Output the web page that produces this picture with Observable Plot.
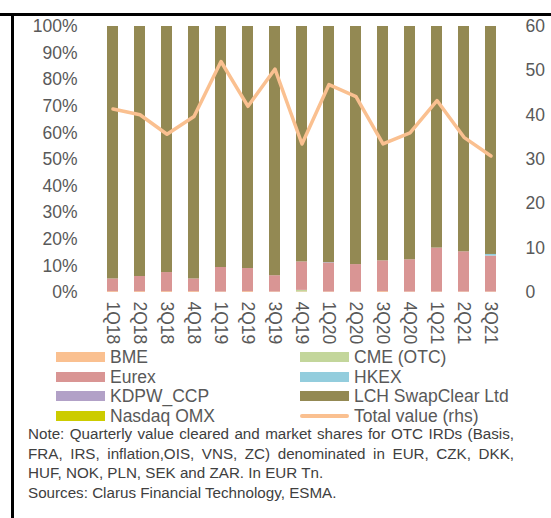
<!DOCTYPE html>
<html><head><meta charset="utf-8">
<script src="https://cdn.jsdelivr.net/npm/d3@7"></script>
<script src="https://cdn.jsdelivr.net/npm/@observablehq/plot@0.6"></script>
<style>
body{margin:0;background:#fff;font-family:"Liberation Sans",Arial,sans-serif;}
#wrap{position:relative;width:551px;height:518px;overflow:hidden;}
#chart{position:absolute;left:0;top:0;}
.bt{position:absolute;left:0;top:13px;width:551px;height:3px;background:#000;}
.bl{position:absolute;left:11px;top:13px;width:3px;height:505px;background:#000;}
.leg{position:absolute;font-size:17.5px;color:#595959;line-height:14px;white-space:nowrap;}
.sw{position:absolute;width:49px;height:10px;}
#note{position:absolute;left:28px;top:424px;width:486px;font-size:15.2px;line-height:19.5px;color:#404040;text-align:justify;}
</style></head>
<body><div id="wrap"><div id="chart"></div><div class="bt"></div><div class="bl"></div><div id="legend"></div>
<div id="note">Note: Quarterly value cleared and market shares for OTC IRDs (Basis, FRA, IRS, inflation,OIS, VNS, ZC) denominated in EUR, CZK, DKK, HUF, NOK, PLN, SEK and ZAR. In EUR Tn.<br>Sources: Clarus Financial Technology, ESMA.</div></div>
<script>
const quarters = ["1Q18","2Q18","3Q18","4Q18","1Q19","2Q19","3Q19","4Q19","1Q20","2Q20","3Q20","4Q20","1Q21","2Q21","3Q21"];
const seriesNames = ["BME","CME (OTC)","Eurex","HKEX","KDPW_CCP","LCH SwapClear Ltd","Nasdaq OMX"];
const seriesColors = ["#FAC090","#C3D69B","#D99594","#93CDDD","#B2A1C7","#938953","#CCCC00"];
const bme    = [0.3,0.3,0.3,0.3,0.2,0.3,0.2,0.2,0.2,0.2,0.3,0.2,0.2,0.2,0.2];
const cme    = [0,0,0,0,0,0,0,0.6,0,0,0,0,0,0,0];
const eurex  = [4.8,5.7,7.2,4.8,9.2,8.7,6.1,10.7,10.8,10.3,11.6,12.1,16.5,15.1,13.5];
const hkex   = [0,0,0,0,0,0,0,0,0,0,0,0,0,0,0.6];
const kdpw   = [0,0,0,0,0,0,0,0,0.2,0,0,0,0,0,0];
const lch    = [94.9,94.0,92.5,94.9,90.6,91.0,93.7,88.5,88.8,89.5,88.1,87.7,83.3,84.7,85.7];
const nasdaq = [0,0,0,0,0,0,0,0,0,0,0,0,0,0,0];
const totalValue = [41.4,40.1,35.7,39.7,52.1,42.0,50.4,33.5,46.9,44.2,33.5,36.0,43.3,35.0,30.8];
const leftTicks = [0,10,20,30,40,50,60,70,80,90,100];
const rhsTicks = [0,10,20,30,40,50,60];
const rhsMax = 60;
const lineName = "Total value (rhs)";
const lineColor = "#FAC090";

const seriesValues = [bme,cme,eurex,hkex,kdpw,lch,nasdaq];
const rows = [];
seriesNames.forEach((s,i)=>quarters.forEach((q,j)=>rows.push({q, series:s, v:seriesValues[i][j]})));
const lineRows = quarters.map((q,j)=>({q, total: totalValue[j]}));

const chart = Plot.plot({
  width:551, height:345, marginTop:26, marginBottom:53, marginLeft:94, marginRight:42,
  style:{fontFamily:"'Liberation Sans', Arial, sans-serif", fontSize:"17.5px", color:"#595959", background:"transparent", overflow:"visible"},
  x:{domain:quarters, paddingInner:0.6, paddingOuter:0.3, axis:null, label:null},
  y:{domain:[0,100], axis:null, label:null},
  color:{domain:seriesNames, range:seriesColors, legend:false},
  marks:[
    Plot.barY(rows, Plot.stackY({x:"q", y:"v", fill:"series", order:seriesNames})),
    Plot.line(lineRows, {x:"q", y:d=>d.total*100/rhsMax, stroke:lineColor, strokeWidth:3.5, strokeLinejoin:"round", strokeLinecap:"round"}),
    Plot.axisX({tickRotate:90, tickSize:0, tickPadding:9, fontSize:17.5, label:null}),
    Plot.axisY(leftTicks, {anchor:"left", tickFormat:d=>d+"%", tickSize:0, tickPadding:17, fontSize:17.5, label:null}),
    Plot.axisY(rhsTicks.map(t=>t*100/rhsMax), {anchor:"right", tickFormat:d=>String(Math.round(d*rhsMax/100)), tickSize:0, tickPadding:16, fontSize:17.5, label:null})
  ]
});
document.getElementById("chart").appendChild(chart);

// legend
const legend = document.getElementById("legend");
const items = seriesNames.map((s,i)=>({label:s, color:seriesColors[i], line:false})).concat([{label:lineName, color:lineColor, line:true}]);
items.forEach((it,k)=>{
  const col = k%2, row = Math.floor(k/2);
  const cy = 357 + row*19.7;
  const sx = col===0 ? 56 : 300;
  const sw = document.createElement("div");
  sw.className="sw";
  sw.style.left = sx+"px";
  if(it.line){ sw.style.top=(cy-2)+"px"; sw.style.height="4px"; sw.style.borderRadius="2px"; }
  else { sw.style.top=(cy-5)+"px"; }
  sw.style.background = it.color;
  legend.appendChild(sw);
  const t = document.createElement("div");
  t.className="leg";
  t.style.left=(sx+54)+"px";
  t.style.top=(cy-7)+"px";
  t.textContent = it.label;
  legend.appendChild(t);
});
</script></body></html>
